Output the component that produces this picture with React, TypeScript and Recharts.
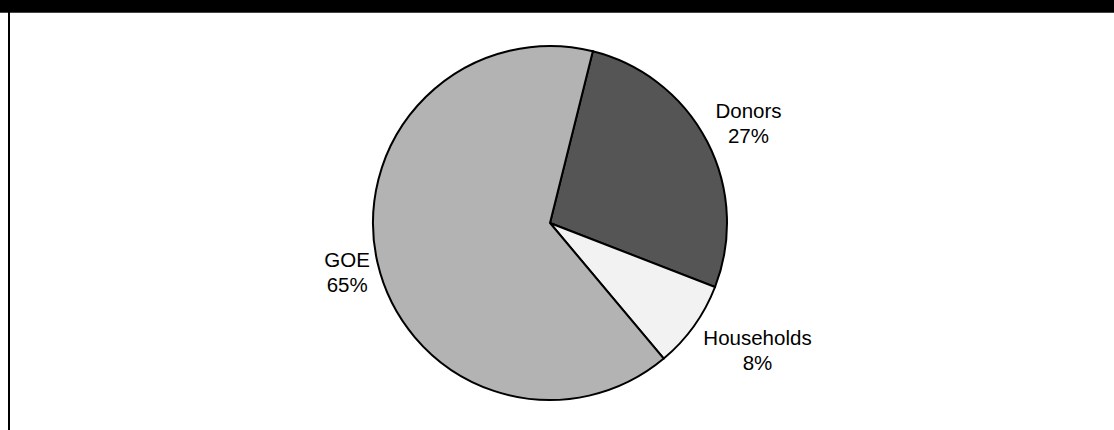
import { Cell, Pie, PieChart } from 'recharts';

const categories = ['Donors', 'Households', 'GOE'];
const shares = [27, 8, 65];
const sliceColors = ['#555555', '#f2f2f2', '#b3b3b3'];

const data = categories.map((name, i) => ({ name, value: shares[i] }));

const RADIAN = Math.PI / 180;
const FONT = '"Liberation Sans", Arial, Helvetica, sans-serif';
const FONT_SIZE = 20.5;

let ctx: CanvasRenderingContext2D | null = null;
function textWidth(s: string) {
  if (!ctx) ctx = document.createElement('canvas').getContext('2d');
  if (!ctx) return s.length * FONT_SIZE * 0.55;
  ctx.font = `${FONT_SIZE}px ${FONT}`;
  return ctx.measureText(s).width;
}

function renderLabel(props: any) {
  const { cx, cy, midAngle, outerRadius, name, value } = props;
  const cos = Math.cos(-midAngle * RADIAN);
  const sin = Math.sin(-midAngle * RADIAN);
  const pct = `${value}%`;
  const w = Math.max(textWidth(name), textWidth(pct));
  // label block sits just outside the rim, pushed out by its own width
  const r = outerRadius - 3;
  const bx = cx + cos * (r + 0.75 * w);
  const by = cy + sin * (r + 44);
  return (
    <text
      x={bx}
      y={by}
      textAnchor="middle"
      fill="#000"
      fontFamily={FONT}
      fontSize={FONT_SIZE}
    >
      <tspan x={bx} y={by - 5}>
        {name}
      </tspan>
      <tspan x={bx} y={by + 20}>
        {pct}
      </tspan>
    </text>
  );
}

export default function App() {
  return (
    <div
      style={{
        position: 'fixed',
        left: 0,
        top: 0,
        width: 1114,
        height: 430,
        background: '#fff',
        overflow: 'hidden',
      }}
    >
      <div
        style={{
          position: 'absolute',
          left: 0,
          top: 0,
          width: 1114,
          height: 12,
          background: '#000',
          borderBottom: '1px solid #444',
        }}
      />
      <div
        style={{
          position: 'absolute',
          left: 8,
          top: 12,
          width: 2,
          height: 418,
          background: '#000',
        }}
      />
      <div style={{ position: 'absolute', left: 0, top: 0 }}>
        <PieChart
          width={1114}
          height={430}
          margin={{ top: 0, right: 0, bottom: 0, left: 0 }}
        >
          <Pie
            data={data}
            dataKey="value"
            nameKey="name"
            cx={550}
            cy={223}
            outerRadius={177}
            startAngle={76}
            endAngle={-284}
            stroke="#000"
            strokeWidth={2}
            label={renderLabel}
            labelLine={false}
            isAnimationActive={false}
          >
            {data.map((d, i) => (
              <Cell key={d.name} fill={sliceColors[i]} />
            ))}
          </Pie>
        </PieChart>
      </div>
    </div>
  );
}
